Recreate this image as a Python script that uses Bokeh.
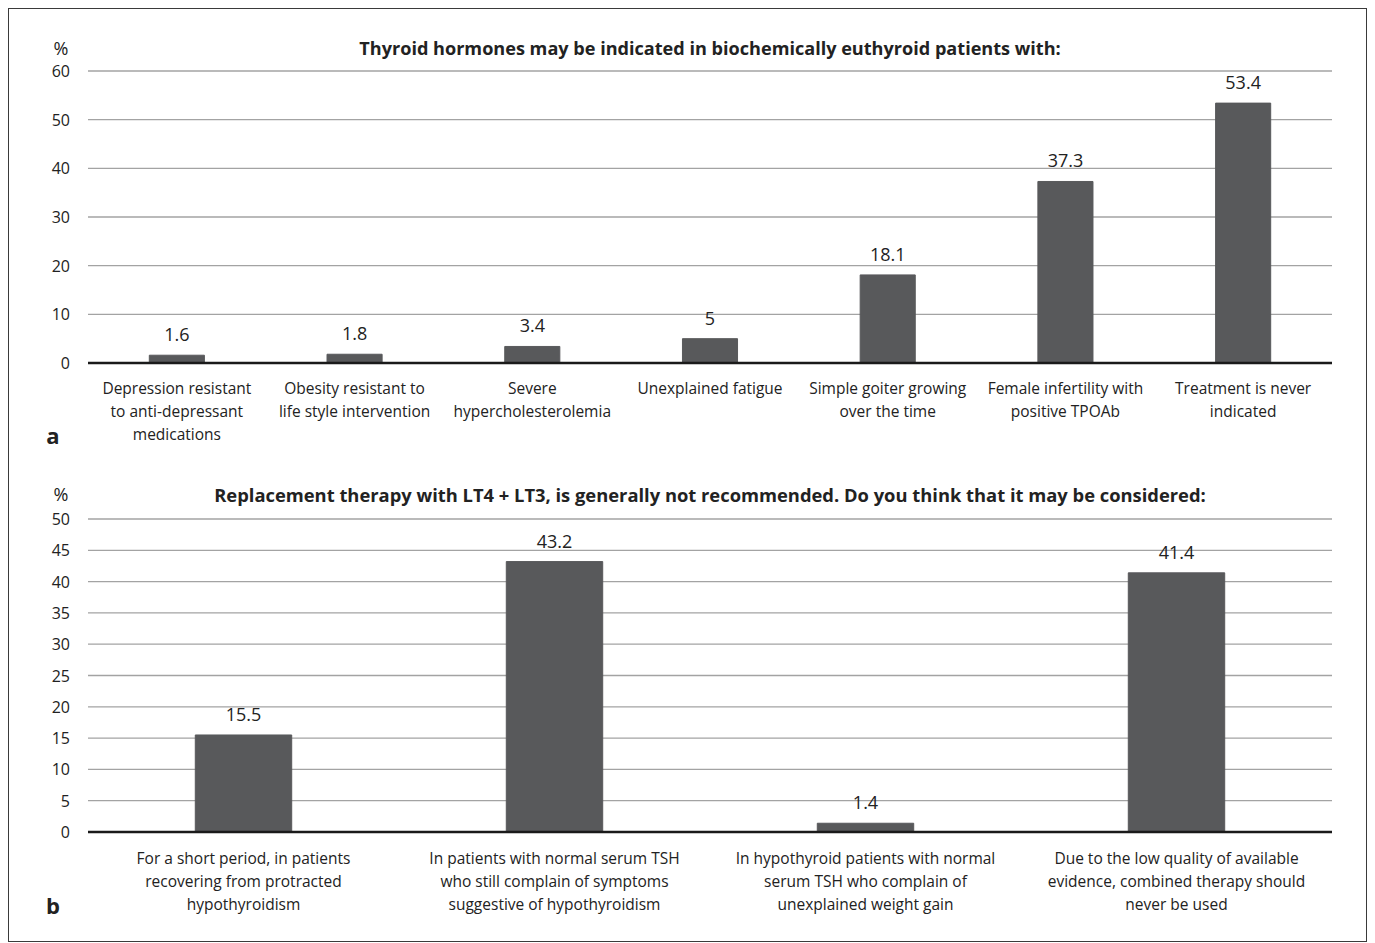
from bokeh.plotting import figure
from bokeh.models import ColumnDataSource, LabelSet, Label, Range1d
from bokeh.core.properties import value
from bokeh.layouts import column
from bokeh.embed import file_html
from bokeh.resources import INLINE

# ---- data ----
cats_a = [
    "Depression resistant\nto anti-depressant\nmedications",
    "Obesity resistant to\nlife style intervention",
    "Severe\nhypercholesterolemia",
    "Unexplained fatigue",
    "Simple goiter growing\nover the time",
    "Female infertility with\npositive TPOAb",
    "Treatment is never\nindicated",
]
vals_a = [1.6, 1.8, 3.4, 5, 18.1, 37.3, 53.4]
labels_a = ["1.6", "1.8", "3.4", "5", "18.1", "37.3", "53.4"]
ticks_a = [0, 10, 20, 30, 40, 50, 60]
title_a = "Thyroid hormones may be indicated in biochemically euthyroid patients with:"

cats_b = [
    "For a short period, in patients\nrecovering from protracted\nhypothyroidism",
    "In patients with normal serum TSH\nwho still complain of symptoms\nsuggestive of hypothyroidism",
    "In hypothyroid patients with normal\nserum TSH who complain of\nunexplained weight gain",
    "Due to the low quality of available\nevidence, combined therapy should\nnever be used",
]
vals_b = [15.5, 43.2, 1.4, 41.4]
labels_b = ["15.5", "43.2", "1.4", "41.4"]
ticks_b = [0, 5, 10, 15, 20, 25, 30, 35, 40, 45, 50]
title_b = "Replacement therapy with LT4 + LT3, is generally not recommended. Do you think that it may be considered:"

FONT = "Open Sans"
BAR = "#58595b"
TXT = "#222222"
GRID = "#a3a3a3"
W, H = 1357, 466
LINE_GAP = 23


def panel(cats, vals, labels, ticks, title, letter, box, title_off, cat_off, letter_off,
          title_size):
    n = len(cats)
    ymax = ticks[-1]
    l, r, t, b = box                       # plot area inside the canvas, in pixels
    w = (r - l) / n
    k = (b - t) / ymax
    xr = Range1d(-0.5 - l / w, n - 0.5 + (W - r) / w)
    yr = Range1d(-(H - b) / k, b / k)
    p = figure(width=W, height=H, output_backend="svg", toolbar_location=None,
               x_range=xr, y_range=yr, min_border=0,
               x_axis_location=None, y_axis_location=None)
    p.min_border_left = p.min_border_right = p.min_border_top = p.min_border_bottom = 0
    p.grid.visible = False
    p.outline_line_color = None
    p.background_fill_color = "white"
    p.border_fill_color = "white"

    xs = list(range(n))
    x_left = -0.5
    x_right = n - 0.5

    # gridlines
    gsrc = ColumnDataSource(dict(y=ticks, x0=[x_left] * len(ticks), x1=[x_right] * len(ticks),
                                 lab=[str(v) for v in ticks]))
    p.segment(x0="x0", x1="x1", y0="y", y1="y", source=gsrc, line_color=GRID, line_width=1.3)

    # bars
    src = ColumnDataSource(dict(x=xs, top=vals, lab=labels))
    p.vbar(x="x", top="top", width=0.31, bottom=0, source=src, color=BAR)

    # x axis line at 0
    p.segment(x0=[x_left], x1=[x_right], y0=[0], y1=[0], line_color="#1a1a1a", line_width=2.4)

    # value labels
    p.add_layout(LabelSet(x="x", y="top", text="lab", source=src, y_offset=14,
                          text_align="center", text_baseline="bottom",
                          text_font=value(FONT), text_font_size=value("18px"),
                          text_color=value(TXT)))
    # category labels, one row per text line so that each line is centred
    lx, ly, lt, lo = [], [], [], []
    for i, c in enumerate(cats):
        for j, line in enumerate(c.split("\n")):
            lx.append(i)
            ly.append(0)
            lt.append(line)
            lo.append(-(cat_off + LINE_GAP * j))
    csrc = ColumnDataSource(dict(x=lx, y=ly, txt=lt, yo=lo))
    p.add_layout(LabelSet(x="x", y="y", text="txt", y_offset="yo", source=csrc,
                          text_align="center", text_baseline="middle",
                          text_font=value(FONT), text_font_size=value("15.5px"),
                          text_color=value(TXT)))
    # y tick labels
    p.add_layout(LabelSet(x=x_left, y="y", text="lab", source=gsrc, x_offset=-18,
                          text_align="right", text_baseline="middle",
                          text_font=value(FONT), text_font_size=value("16px"),
                          text_color=value(TXT)))
    # title
    p.add_layout(Label(x=(n - 1) / 2, y=ymax, y_offset=title_off, text=title,
                       text_align="center", text_baseline="middle", text_font=FONT,
                       text_font_size=title_size, text_font_style="bold", text_color=TXT))
    # "%" unit label
    p.add_layout(Label(x=x_left, y=ymax, x_offset=-27, y_offset=title_off, text="%",
                       text_align="center", text_baseline="middle", text_font=FONT,
                       text_font_size="18px", text_color=TXT))
    # panel letter
    p.add_layout(Label(x=x_left, y=0, x_offset=-35, y_offset=-letter_off, text=letter,
                       text_align="center", text_baseline="middle", text_font=FONT,
                       text_font_size="22px", text_font_style="bold", text_color=TXT))
    return p


# canvas origin is at page (9.5, 9.5) for panel a and (9.5, 475.5) for panel b
pa = panel(cats_a, vals_a, labels_a, ticks_a, title_a, "a",
           (78.5, 1322.5, 61.5, 353.5), 23, 25, 72, "18.1px")
pb = panel(cats_b, vals_b, labels_b, ticks_b, title_b, "b",
           (78.5, 1322.5, 43.5, 356.5), 25, 26, 73, "18.35px")

layout = column(pa, pb, spacing=0,
                styles={"border": "1.5px solid #3a3a3a", "margin-left": "8px", "margin-top": "8px"})

open("out.html", "w").write(file_html(layout, INLINE))
